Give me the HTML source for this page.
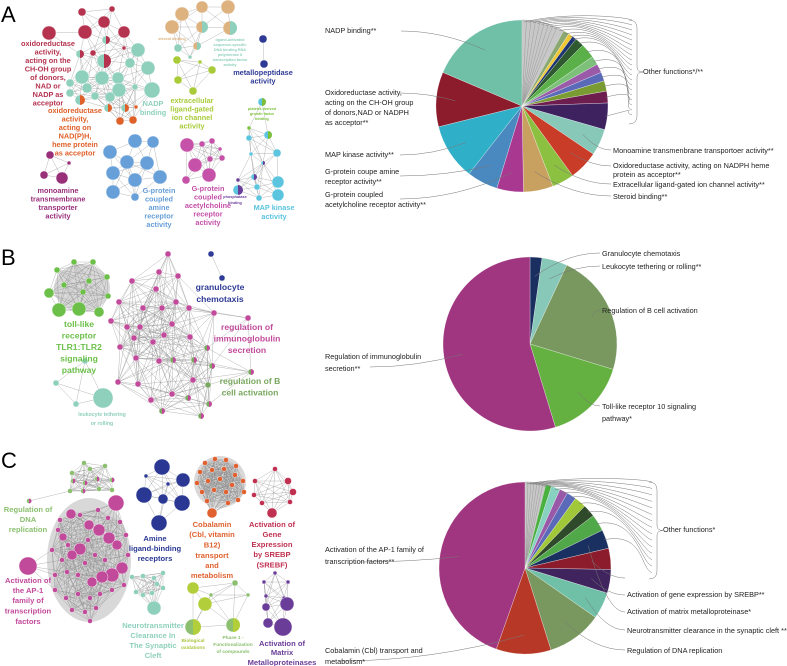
<!DOCTYPE html>
<html><head><meta charset="utf-8"><style>
html,body{margin:0;padding:0;background:#fff}
svg{display:block;font-family:"Liberation Sans",sans-serif}
.nl{font-weight:bold;text-anchor:middle}
.pl{font-size:7.3px;fill:#222}
</style></head><body>
<svg id="fig" width="787" height="666" viewBox="0 0 787 666" xmlns="http://www.w3.org/2000/svg">
<g id="edges"></g>
<g id="nodes"></g>
<g id="pies"></g>
<g id="leaders" fill="none" stroke="#777" stroke-width="0.5"></g>
<g font-size="22">
<text x="1" y="22">A</text>
<text x="1" y="265">B</text>
<text x="1" y="468">C</text>
</g>
<g class="nl" font-size="7.3">
<text fill="#b5334f"><tspan x="48" y="46">oxidoreductase</tspan><tspan x="48" y="54.5">activity,</tspan><tspan x="48" y="63">acting on the</tspan><tspan x="48" y="71.5">CH-OH group</tspan><tspan x="48" y="80">of donors,</tspan><tspan x="48" y="88.5">NAD or</tspan><tspan x="48" y="97">NADP as</tspan><tspan x="48" y="105.5">acceptor</tspan></text>
<text fill="#e0602a"><tspan x="75" y="113">oxidoreductase</tspan><tspan x="75" y="121.5">activity,</tspan><tspan x="75" y="130">acting on</tspan><tspan x="75" y="138.5">NAD(P)H,</tspan><tspan x="75" y="147">heme protein</tspan><tspan x="75" y="155.5">as acceptor</tspan></text>
<text fill="#8fd0bd"><tspan x="153" y="106">NADP</tspan><tspan x="153" y="115">binding</tspan></text>
<text fill="#a9cb3a"><tspan x="192" y="103">extracellular</tspan><tspan x="192" y="111.5">ligand-gated</tspan><tspan x="192" y="120">ion channel</tspan><tspan x="192" y="128.5">activity</tspan></text>
<text fill="#2e3a96"><tspan x="263" y="75">metallopeptidase</tspan><tspan x="263" y="83.5">activity</tspan></text>
<text fill="#98307a"><tspan x="58" y="193">monoamine</tspan><tspan x="58" y="201.5">transmembrane</tspan><tspan x="58" y="210">transporter</tspan><tspan x="58" y="218.5">activity</tspan></text>
<text fill="#679fd8"><tspan x="159" y="193">G-protein</tspan><tspan x="159" y="201.5">coupled</tspan><tspan x="159" y="210">amine</tspan><tspan x="159" y="218.5">receptor</tspan><tspan x="159" y="227">activity</tspan></text>
<text fill="#c551a8"><tspan x="208" y="191">G-protein</tspan><tspan x="208" y="199.5">coupled</tspan><tspan x="208" y="208">acetylcholine</tspan><tspan x="208" y="216.5">receptor</tspan><tspan x="208" y="225">activity</tspan></text>
<text fill="#5bc4de"><tspan x="274" y="210">MAP kinase</tspan><tspan x="274" y="219">activity</tspan></text>
<g font-size="3.8">
<text fill="#deb27f" x="172" y="40">steroid binding</text>
<text fill="#8fd0bd"><tspan x="230" y="41">ligand-activated</tspan><tspan x="230" y="46">sequence-specific</tspan><tspan x="230" y="51">DNA binding RNA</tspan><tspan x="230" y="56">polymerase II</tspan><tspan x="230" y="61">transcription factor</tspan><tspan x="230" y="66">activity</tspan></text>
<text fill="#7cbf3a"><tspan x="262" y="110">platelet-derived</tspan><tspan x="262" y="115">growth factor</tspan><tspan x="262" y="120">binding</tspan></text>
<text fill="#6a3d98"><tspan x="235" y="198">phosphatase</tspan><tspan x="235" y="204">binding</tspan></text>
</g></g>
<g class="nl" font-size="8.6">
<text fill="#6cc04a"><tspan x="79" y="327">toll-like</tspan><tspan x="79" y="338.5">receptor</tspan><tspan x="79" y="350">TLR1:TLR2</tspan><tspan x="79" y="361.5">signaling</tspan><tspan x="79" y="373">pathway</tspan></text>
<text fill="#2e3a96"><tspan x="220" y="290">granulocyte</tspan><tspan x="220" y="302">chemotaxis</tspan></text>
<text fill="#c24a9b"><tspan x="247" y="330">regulation of</tspan><tspan x="247" y="341.5">immunoglobulin</tspan><tspan x="247" y="353">secretion</tspan></text>
<text fill="#7aa860"><tspan x="250" y="384">regulation of B</tspan><tspan x="250" y="395.5">cell activation</tspan></text>
<text fill="#8fd0bd" font-size="5.2"><tspan x="102" y="416">leukocyte tethering</tspan><tspan x="102" y="425">or rolling</tspan></text>
</g>
<g class="nl" font-size="7.6">
<text fill="#8cc070"><tspan x="28" y="512">Regulation of</tspan><tspan x="28" y="522">DNA</tspan><tspan x="28" y="532">replication</tspan></text>
<text fill="#c24a9b"><tspan x="28" y="583">Activation of</tspan><tspan x="28" y="593">the AP-1</tspan><tspan x="28" y="603">family of</tspan><tspan x="28" y="613.5">transcription</tspan><tspan x="28" y="624">factors</tspan></text>
<text fill="#2a3893"><tspan x="155" y="541">Amine</tspan><tspan x="155" y="551">ligand-binding</tspan><tspan x="155" y="561">receptors</tspan></text>
<text fill="#e0612f"><tspan x="212" y="527">Cobalamin</tspan><tspan x="212" y="537">(Cbl, vitamin</tspan><tspan x="212" y="547.5">B12)</tspan><tspan x="212" y="558">transport</tspan><tspan x="212" y="568">and</tspan><tspan x="212" y="578">metabolism</tspan></text>
<text fill="#c03050"><tspan x="272" y="527">Activation of</tspan><tspan x="272" y="537">Gene</tspan><tspan x="272" y="547">Expression</tspan><tspan x="272" y="557">by SREBP</tspan><tspan x="272" y="567.5">(SREBF)</tspan></text>
<text fill="#8fd0bd"><tspan x="153" y="628">Neurotransmitter</tspan><tspan x="153" y="638">Clearance In</tspan><tspan x="153" y="648">The Synaptic</tspan><tspan x="153" y="658">Cleft</tspan></text>
<text fill="#6a3d98"><tspan x="282" y="646">Activation of</tspan><tspan x="282" y="655">Matrix</tspan><tspan x="282" y="665">Metalloproteinases</tspan></text>
<g font-size="4.8">
<text fill="#a8c43a"><tspan x="193" y="642">Biological</tspan><tspan x="193" y="649">oxidations</tspan></text>
<text fill="#8cc070"><tspan x="233" y="639">Phase 1 -</tspan><tspan x="233" y="646">Functionalization</tspan><tspan x="233" y="653">of compounds</tspan></text>
</g></g>
<g class="pl">
<text x="325" y="33">NADP binding**</text>
<text><tspan x="325" y="95">Oxidoreductase activity,</tspan><tspan x="325" y="105">acting on the CH-OH group</tspan><tspan x="325" y="115">of donors,NAD or NADPH</tspan><tspan x="325" y="125">as acceptor**</tspan></text>
<text x="325" y="157">MAP kinase activity**</text>
<text><tspan x="325" y="174">G-protein coupe amine</tspan><tspan x="325" y="184">receptor activity**</tspan></text>
<text><tspan x="325" y="197">G-protein coupled</tspan><tspan x="325" y="207">acetylcholine receptor activity**</tspan></text>
<text x="643" y="74">Other functions*/**</text>
<text x="613" y="153">Monoamine transmenbrane transportoer activity**</text>
<text><tspan x="613" y="168">Oxidoreductase activity, acting on NADPH heme</tspan><tspan x="613" y="177">protein as acceptor**</tspan></text>
<text x="613" y="187">Extracellular ligand-gated ion channel activity**</text>
<text x="613" y="199">Steroid binding**</text>
<text x="602" y="256">Granulocyte chemotaxis</text>
<text x="602" y="269">Leukocyte tethering or rolling**</text>
<text x="602" y="313">Regulation of B cell activation</text>
<text><tspan x="325" y="359">Regulation of immunoglobulin</tspan><tspan x="325" y="371">secretion**</tspan></text>
<text><tspan x="602" y="409">Toll-like receptor 10 signaling</tspan><tspan x="602" y="421">pathway*</tspan></text>
<text x="663" y="532">Other functions*</text>
<text><tspan x="325" y="552">Activation of the AP-1 family of</tspan><tspan x="325" y="564">transcription factors**</tspan></text>
<text x="627" y="597">Activation of gene expression by SREBP**</text>
<text x="627" y="614">Activation of matrix metalloproteinase*</text>
<text x="627" y="633">Neurotransmitter clearance in the synaptic cleft **</text>
<text x="627" y="653">Regulation of DNA replication</text>
<text><tspan x="325" y="653">Cobalamin (Cbl) transport and</tspan><tspan x="325" y="664">metabolism*</tspan></text>
</g>
</svg>
<script>
// ---------- pie data (slice sizes, clockwise from 12 o'clock) ----------
const pieAValues = [3,3,3,3,3,3,3,3,5, 4,3,3,6,10,6,6,6,7,8,18,18,20,15,20,18,21,38,37,67];
const pieAColors = ['#c8c8c8','#c8c8c8','#c8c8c8','#c8c8c8','#c8c8c8','#c8c8c8','#c8c8c8','#c8c8c8','#c8c8c8','#8aa870','#f0c832','#1e3470','#2f5a2f','#5cb04a','#7cc07a','#9a5aa8','#5a6ab8','#7a9a32','#6e1e4e','#3e2260','#88c8b8','#c83c28','#8cc040','#c8a060','#a83890','#4a88c0','#30b0c8','#8c1c2c','#70c0a8'];
const pieBValues = [8,17,82,56,197];
const pieBColors = ['#1a2e60','#88c8b8','#789860','#64b040','#a03580'];
const pieCValues = [2,2,2,2,2,2,2, 4,6,5.5,6.5,8,8.5,11.5,12.7,14.3,16,18,37.4,37.1,160.5];
const pieCColors = ['#c8c8c8','#c8c8c8','#c8c8c8','#c8c8c8','#c8c8c8','#c8c8c8','#c8c8c8','#4ab040','#88d0c0','#9a58a8','#5a6ab8','#a0c838','#2f4a2a','#50a848','#1a3060','#8c1c2c','#40245e','#70c0a8','#789860','#b83828','#a03580'];

const NS='http://www.w3.org/2000/svg';
function mk(tag,parent){const e=document.createElementNS(NS,tag);parent.appendChild(e);return e;}
const pies=document.getElementById('pies');
const leaders=document.getElementById('leaders');
function pt(cx,cy,r,a){const t=a*Math.PI/180;return [cx+r*Math.sin(t),cy-r*Math.cos(t)];}
function drawPie(name,vals,cols,cx,cy,r){
  const total=vals.reduce((s,v)=>s+v,0);let a=0;const mids=[];
  vals.forEach((v,i)=>{
    const a0=a, a1=a+v/total*360; a=a1;
    const p0=pt(cx,cy,r,a0),p1=pt(cx,cy,r,a1);
    const col=cols[i]||'#c8c8c8';
    const p=mk('path',pies);
    
    
    p.setAttribute('d',`M${cx},${cy}L${p0[0]},${p0[1]}A${r},${r} 0 ${(a1-a0)>180?1:0} 1 ${p1[0]},${p1[1]}Z`);
    p.setAttribute('fill',col);
    p.setAttribute('stroke',col==='#c8c8c8'?'#999':'#fff');
    p.setAttribute('stroke-width',col==='#c8c8c8'?'0.4':'0.3');
    mids.push((a0+a1)/2);
  });
  return mids;
}
function leader(d){const l=mk('path',leaders);
  
  
  l.setAttribute('d',d);}
function toLabel(cx,cy,r,ang,lx,ly){const p=pt(cx,cy,r*0.78,ang);
  leader(`M${p[0]},${p[1]}Q${(p[0]+lx)/2},${ly} ${lx},${ly}`);}
function bracket(x,y0,y1){const m=(y0+y1)/2;
  leader(`M${x-8},${y0}Q${x},${y0} ${x},${y0+8}L${x},${m-5}Q${x},${m} ${x+6},${m}Q${x},${m} ${x},${m+5}L${x},${y1-8}Q${x},${y1} ${x-8},${y1}`);}

// Pie A
const mA=drawPie('pie-a',pieAValues,pieAColors,522,106,86);
const aLbl=[[28,401,31],[27,400,93],[26,400,155],[25,400,176],[24,400,199],[20,611,150],[21,611,166],[22,611,184],[23,611,196]];
aLbl.forEach(([i,lx,ly])=>toLabel(522,106,86,mA[i],lx,ly));
for(let i=0;i<20;i++){const p=pt(522,106,84,mA[i]);const by=20+i*(100/20);
  leader(`M${p[0]},${p[1]}C${p[0]+40},${p[1]-10} ${620},${by-4} ${632},${by}`);}
bracket(637,20,124);leader('M643,72L641,72');
// Pie B
const mB=drawPie('pie-b',pieBValues,pieBColors,530,344,87);
toLabel(530,344,87,mB[0],600,253);toLabel(530,344,87,mB[1],600,266);
toLabel(530,344,87,mB[2],600,310);toLabel(530,344,87,mB[4],370,367);toLabel(530,344,87,mB[3],600,406);
// Pie C
const mC=drawPie('pie-c',pieCValues,pieCColors,525,568,86);
toLabel(525,568,86,mC[20],360,562);toLabel(525,568,86,mC[16],625,595);toLabel(525,568,86,mC[15],625,578);
toLabel(525,568,86,mC[17],625,630);toLabel(525,568,86,mC[18],625,650);toLabel(525,568,86,mC[19],340,661);
toLabel(525,568,86,mC[14],625,612);
for(let i=0;i<15;i++){const p=pt(525,568,84,mC[i]);const by=482+i*(97/15);
  leader(`M${p[0]},${p[1]}C${p[0]+40},${p[1]-8} ${640},${by-4} ${652},${by}`);}
bracket(657,482,579);

// ---------- networks ----------
const edges=document.getElementById('edges'),nodes=document.getElementById('nodes');
// [x,y,r,color,secondColor,cluster]
const R='#b5334f',T='#8fd0bd',O='#e0602a',TN='#deb27f',L='#a9cb3a',N='#2e3a96',M='#c551a8',B='#679fd8',P='#98307a',C='#5bc4de',G='#7cbf3a',V='#6a3d98';
const netA=[
[49,33,7,R,0,1],[82,12,4,R,0,1],[112,9,3,R,0,1],[104,22,6,R,0,1],[85,32,7,R,0,1],[124,32,6,R,0,1],[106,40,4,T,R,1],[124,48,2,R,0,1],
[138,50,7,T,0,1],[80,54,4,T,R,1],[93,53,3,R,0,1],[104,61,7,T,R,1],[130,63,5,T,0,1],[148,68,7,T,0,1],[82,77,7,T,0,1],[102,78,7,T,0,1],[118,78,6,T,0,1],[70,83,4,T,0,1],[87,88,5,T,0,1],[119,90,7,T,0,1],[135,87,3,T,0,1],[152,90,8,T,0,1],[70,93,4,T,0,1],[95,96,4,T,0,1],[110,97,5,T,0,1],[80,100,5,T,O,1],[108,108,4,T,O,1],[125,108,4,T,O,1],[136,107,2,O,0,1],[120,121,4,O,0,1],[133,120,4,O,0,1],
[182,14,7,TN,0,2],[202,7,6,TN,0,2],[228,7,7,TN,0,2],[172,27,7,TN,0,2],[202,27,6,TN,T,2],[230,28,7,TN,T,2],[197,46,4,TN,T,2],[178,48,4,T,0,2],[190,57,2,T,0,2],
[177,60,4,L,0,3],[200,62,2,L,0,3],[212,70,4,L,0,3],[178,80,4,L,0,3],[193,91,4,L,0,3],
[263,39,4,N,0,4],[264,64,4,N,0,4],
[187,145,7,M,0,5],[202,144,3,M,0,5],[212,141,3,M,0,5],[220,149,2,M,0,5],[210,159,3,M,0,5],[222,158,3,M,0,5],[195,165,7,M,0,5],[209,175,7,M,0,5],[186,180,4,M,0,5],
[135,141,7,B,0,6],[153,142,6,B,0,6],[110,152,7,B,0,6],[127,162,7,B,0,6],[147,163,7,B,0,6],[113,173,7,B,0,6],[135,180,7,B,0,6],[160,177,7,B,0,6],[113,192,7,B,0,6],[135,197,4,B,0,6],
[50,155,4,P,0,7],[69,163,2,P,0,7],[44,175,4,P,0,7],[62,178,6,P,0,7],
[262,102,4,C,G,8],[268,135,4,C,G,8],[249,128,2,G,0,8],[249,138,3,C,0,8],[277,153,4,C,0,8],[251,154,2,C,0,8],[263,163,2,C,V,8],[254,177,3,C,V,8],[278,182,6,C,0,8],[238,190,5,C,V,8],[257,187,3,C,0,8],[278,195,6,C,0,8],[259,198,3,C,0,8],[238,180,2,V,0,8]];
const BG='#6cc04a',BM='#c24a9b',BO='#7aa860';
const netB=[
[57,270,3,BG,0,1],[74,262,3,BG,0,1],[93,262,3,BG,0,1],[107,277,3,BG,0,1],[64,285,3,BG,0,1],[89,281,3,BG,0,1],[83,292,3,BG,0,1],[108,296,3,BG,0,1],[49,293,5,BG,0,1],[59,310,7,BG,0,1],[79,309,7,BG,0,1],[99,312,5,BG,0,1],
[85,361,3,T,0,2],[56,383,3,T,0,2],[76,404,3,T,0,2],[103,398,10,T,0,2],
[211,254,3,N,0,3],[222,278,3,N,0,3],
[168,254,3,BM,0,4],[159,272,3,BM,0,4],[178,276,3,BM,0,4],[132,281,3,BM,0,4],[156,289,3,BM,0,4],[119,302,3,BM,0,4],[143,308,3,BM,0,4],[162,308,3,BM,0,4],[176,302,3,BM,0,4],[189,308,3,BM,0,4],[214,313,3,BM,0,4],[248,318,3,BM,0,4],[111,321,3,BM,0,4],[127,327,3,BM,0,4],[140,327,3,BM,0,4],[172,324,3,BM,0,4],[134,338,3,BM,0,4],[153,342,3,BM,0,4],[164,335,3,BM,0,4],[190,337,3,BM,0,4],[120,347,3,BM,0,4],[136,358,3,BM,0,4],[159,361,3,BM,0,4],[173,360,3,BO,BM,4],[194,360,3,BO,BM,4],[212,366,3,BO,BM,4],[207,348,3,BO,BM,4],[251,372,3,BO,BM,4],[118,382,3,BM,0,4],[138,384,3,BM,0,4],[208,385,3,BO,0,4],[193,380,3,BM,0,4],[172,394,3,BM,0,4],[188,398,3,BO,BM,4],[151,400,3,BM,0,4],[162,411,3,BO,BM,4],[209,404,3,BO,BM,4],[201,416,3,BO,BM,4]];
const CG='#8cc070',CM='#c24a9b',CN='#2a3893',CO='#e0612f',CR='#c03050',CL='#b2cf3b';
const netC=[
[84,463,2.5,CG,0,1],[105,466,2.5,CG,0,1],[90,469,2.5,CG,0,1],[72,473,2.5,CG,0,1],[97,479,2.5,CG,CM,1],[112,480,2.5,CG,CM,1],[73,481,2.5,CG,CM,1],[85,483,2.5,CG,CM,1],[99,489,2.5,CG,0,1],[112,490,2.5,CG,0,1],[70,491,2.5,CG,0,1],[83,491,2.5,CG,CM,1],[29,501,2.5,CG,CM,1],
[116,503,8,CM,0,2],[71,514,5,CM,0,2],[28,566,9,CM,0,2],[89,525,5,CM,0,2],[99,530,6,CM,0,2],[109,538,6,CM,0,2],[80,549,6,CM,0,2],[72,555,5,CM,0,2],[117,545,5,CM,0,2],[122,568,6,CM,0,2],[112,575,7,CM,0,2],[102,577,6,CM,0,2],[92,582,5,CM,0,2],[63,537,4,CM,0,2],
[60,520,2.5,CM,0,2],[80,515,2.5,CM,0,2],[98,510,2.5,CM,0,2],[108,518,2.5,CM,0,2],[120,522,2.5,CM,0,2],[126,535,2.5,CM,0,2],[58,530,2.5,CM,0,2],[68,545,2.5,CM,0,2],[88,540,2.5,CM,0,2],[95,555,2.5,CM,0,2],[105,560,2.5,CM,0,2],[85,563,2.5,CM,0,2],[62,560,2.5,CM,0,2],[55,575,2.5,CM,0,2],[67,572,2.5,CM,0,2],[78,575,2.5,CM,0,2],[55,590,2.5,CM,0,2],[66,598,2.5,CM,0,2],[78,594,2.5,CM,0,2],[90,598,2.5,CM,0,2],[100,594,2.5,CM,0,2],[112,590,2.5,CM,0,2],[124,585,2.5,CM,0,2],[72,610,2.5,CM,0,2],[85,612,2.5,CM,0,2],[96,608,2.5,CM,0,2],[90,621,2.5,CM,0,2],[52,550,2.5,CM,0,2],[128,555,2.5,CM,0,2],
[162,467,8,CN,0,3],[146,476,2,CN,0,3],[168,484,2,CN,0,3],[183,480,7,CN,0,3],[144,495,8,CN,0,3],[163,499,5,CN,0,3],[182,503,8,CN,0,3],[159,523,8,CN,0,3],
[205,463,2.5,CO,0,4],[215,459,2.5,CO,0,4],[226,460,2.5,CO,0,4],[236,466,2.5,CO,0,4],[200,472,2.5,CO,0,4],[212,470,2.5,CO,0,4],[224,469,2.5,CO,0,4],[235,475,2.5,CO,0,4],[243,481,2.5,CO,0,4],[197,483,2.5,CO,0,4],[208,481,2.5,CO,0,4],[220,479,2.5,CO,0,4],[232,485,2.5,CO,0,4],[244,492,2.5,CO,0,4],[202,492,2.5,CO,0,4],[214,490,2.5,CO,0,4],[226,492,2.5,CO,0,4],[238,500,2.5,CO,0,4],[207,501,2.5,CO,0,4],[228,503,2.5,CO,0,4],[212,513,5,CO,0,4],
[275,469,2.5,CR,0,5],[255,481,2.5,CR,0,5],[288,481,3.5,CR,0,5],[293,492,3.5,CR,0,5],[254,495,2.5,CR,0,5],[290,502,2.5,CR,0,5],[262,503,2.5,CR,0,5],[272,513,5,CR,0,5],
[132,577,2.5,T,0,6],[143,576,2.5,T,0,6],[154,578,2.5,T,0,6],[163,573,2.5,T,0,6],[136,592,2.5,T,0,6],[143,595,2.5,T,0,6],[152,593,2.5,T,0,6],[163,588,2.5,T,0,6],[157,584,2.5,T,0,6],[154,608,7,T,0,6],
[193,588,6,CL,0,7],[205,604,7,CL,0,7],[193,627,8,CG,CL,7],[233,625,7,CG,CL,7],[211,595,2,CG,0,7],[248,595,2,CG,0,7],[235,583,3,CG,0,7],
[275,573,2,V,0,8],[264,582,2,V,0,8],[288,582,2,V,0,8],[266,596,2,V,0,8],[284,598,2,V,0,8],[266,607,4,V,0,8],[287,604,7,V,0,8],[268,623,5,V,0,8],[283,627,9,V,0,8]];
// dense edge backgrounds
[[82,288,28,24],[89,560,42,62],[220,482,26,26]].forEach(([x,y,rx,ry])=>{const e=mk('ellipse',edges);
  
  
  e.setAttribute('cx',x);e.setAttribute('cy',y);e.setAttribute('rx',rx);e.setAttribute('ry',ry);e.setAttribute('fill','#a8a8a8');e.setAttribute('opacity','0.45');});
function drawNet(name,net,maxD){
  for(let i=0;i<net.length;i++)for(let j=i+1;j<net.length;j++){
    const a=net[i],b=net[j];if(a[5]!==b[5])continue;
    const d=Math.hypot(a[0]-b[0],a[1]-b[1]);if(d>maxD)continue;
    const l=mk('line',edges);
    
    
    l.setAttribute('x1',a[0]);l.setAttribute('y1',a[1]);l.setAttribute('x2',b[0]);l.setAttribute('y2',b[1]);
    l.setAttribute('stroke','#888');l.setAttribute('stroke-width','0.5');l.setAttribute('opacity','0.6');}
  net.forEach(n=>{
    const c=mk('circle',nodes);
    
    
    c.setAttribute('cx',n[0]);c.setAttribute('cy',n[1]);c.setAttribute('r',n[2]);c.setAttribute('fill',n[3]);
    c.setAttribute('stroke','#fff');c.setAttribute('stroke-width','0.4');
    if(n[4]){const h=mk('path',nodes);
      
      
      h.setAttribute('d',`M${n[0]},${n[1]-n[2]}A${n[2]},${n[2]} 0 0 1 ${n[0]},${n[1]+n[2]}Z`);h.setAttribute('fill',n[4]);}
  });
}
drawNet('network-a',netA,38);
drawNet('network-b',netB,60);
drawNet('network-c',netC,45);
</script>
</body></html>
